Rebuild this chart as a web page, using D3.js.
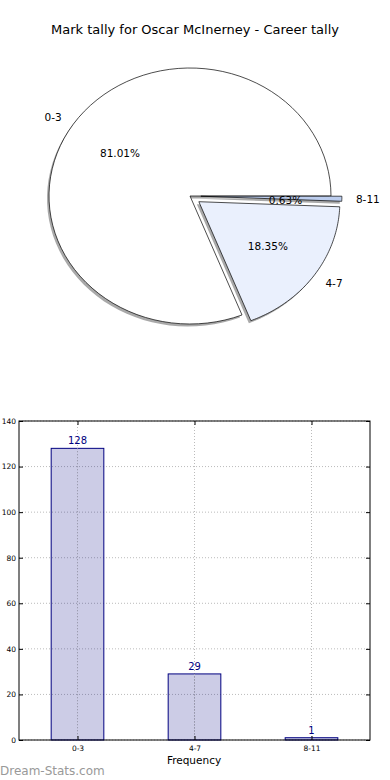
<!DOCTYPE html>
<html>
<head>
<meta charset="utf-8">
<script src="https://cdn.jsdelivr.net/npm/d3@7"></script>
<style>
  body { margin: 0; background: #fff; }
  svg { display: block; font-family: "DejaVu Sans", sans-serif; }
</style>
</head>
<body>
<svg id="chart" width="390" height="780"></svg>
<script>
// data
var categories = ["0-3", "4-7", "8-11"];
var counts = [128, 29, 1];
var pctLabels = ["81.01%", "18.35%", "0.63%"];
var explode = [0, 0.077, 0.077];
var pieColors = ["#ffffff", "#eaf0fd", "#bccdee"];
var yTicks = [0, 20, 40, 60, 80, 100, 120, 140];

var svg = d3.select("#chart");

svg.append("text")
  .attr("x", 195).attr("y", 34)
  .attr("text-anchor", "middle")
  .style("font-size", "13px")
  .text("Mark tally for Oscar McInerney - Career tally");

// ---- pie (drawn on a unit circle then stretched into the ellipse) ----
var cx = 190, cy = 196, rx = 141, ry = 128;
var total = d3.sum(counts);

// matplotlib style: start at 3 o'clock, go counter clockwise
var angles = [];
var acc = 0;
counts.forEach(function(c, i) {
  var a0 = acc / total * 2 * Math.PI;
  acc += c;
  var a1 = acc / total * 2 * Math.PI;
  angles.push({i: i, a0: a0, a1: a1, mid: (a0 + a1) / 2});
});

function pt(a, r, off) {
  return [cx + off[0] + rx * r * Math.cos(a), cy + off[1] - ry * r * Math.sin(a)];
}

function wedgePath(s, off) {
  var p = d3.path();
  p.moveTo(cx + off[0], cy + off[1]);
  var n = 80;
  for (var k = 0; k <= n; k++) {
    var a = s.a0 + (s.a1 - s.a0) * k / n;
    var q = pt(a, 1, off);
    p.lineTo(q[0], q[1]);
  }
  p.closePath();
  return p.toString();
}

angles.forEach(function(s) {
  s.off = [explode[s.i] * rx * Math.cos(s.mid), -explode[s.i] * ry * Math.sin(s.mid)];
});

var pieG = svg.append("g");

// shadows first
pieG.selectAll("path.shadow")
  .data(angles)
  .enter().append("path")
  .attr("class", "shadow")
  .attr("d", function(s) { return wedgePath(s, [s.off[0] - 2, s.off[1] + 2.5]); })
  .attr("fill", "#8c8c8c")
  .attr("fill-opacity", 0.75);

pieG.selectAll("path.wedge")
  .data(angles)
  .enter().append("path")
  .attr("class", "wedge")
  .attr("d", function(s) { return wedgePath(s, s.off); })
  .attr("fill", function(s) { return pieColors[s.i]; })
  .attr("stroke", "#000")
  .attr("stroke-width", 0.7)
  .attr("stroke-linejoin", "round");

// category labels at 1.1 radius
pieG.selectAll("text.lab")
  .data(angles)
  .enter().append("text")
  .attr("class", "lab")
  .attr("x", function(s) { return pt(s.mid, 1.1, s.off)[0]; })
  .attr("y", function(s) { return pt(s.mid, 1.1, s.off)[1]; })
  .attr("dy", "0.35em")
  .attr("text-anchor", function(s) { return Math.cos(s.mid) < 0 ? "end" : "start"; })
  .style("font-size", "10.5px")
  .text(function(s) { return categories[s.i]; });

// percentages at 0.6 radius
pieG.selectAll("text.pct")
  .data(angles)
  .enter().append("text")
  .attr("class", "pct")
  .attr("x", function(s) { return pt(s.mid, 0.6, s.off)[0]; })
  .attr("y", function(s) { return pt(s.mid, 0.6, s.off)[1] + (s.i === 2 ? 3 : 0); })
  .attr("dy", "0.35em")
  .attr("text-anchor", "middle")
  .style("font-size", "10.5px")
  .text(function(s) { return pctLabels[s.i]; });

// ---- bar chart ----
var plotL = 19, plotR = 370, plotT = 421, plotB = 740;

var x = d3.scaleLinear().domain([-0.5, 2.5]).range([plotL, plotR]);
var y = d3.scaleLinear().domain([0, 140]).range([plotB, plotT]);
var barW = 0.45;

var g = svg.append("g");

// grid
g.selectAll("line.hgrid")
  .data(yTicks)
  .enter().append("line")
  .attr("x1", plotL).attr("x2", plotR)
  .attr("y1", function(d) { return y(d); })
  .attr("y2", function(d) { return y(d); })
  .attr("stroke", "#bbb").attr("stroke-width", 1)
  .attr("stroke-dasharray", "1,2");

g.selectAll("line.vgrid")
  .data(categories)
  .enter().append("line")
  .attr("x1", function(d, i) { return x(i); })
  .attr("x2", function(d, i) { return x(i); })
  .attr("y1", plotT).attr("y2", plotB)
  .attr("stroke", "#bbb").attr("stroke-width", 1)
  .attr("stroke-dasharray", "1,2");

// bars
g.selectAll("rect.bar")
  .data(counts)
  .enter().append("rect")
  .attr("x", function(d, i) { return x(i - barW / 2); })
  .attr("width", function() { return x(barW) - x(0); })
  .attr("y", function(d) { return y(d); })
  .attr("height", function(d) { return y(0) - y(d); })
  .attr("fill", "#000080")
  .attr("fill-opacity", 0.2)
  .attr("stroke", "#000080")
  .attr("stroke-width", 1);

// grid shows through the bars in the original
g.selectAll("line.vgrid2")
  .data(categories)
  .enter().append("line")
  .attr("x1", function(d, i) { return x(i); })
  .attr("x2", function(d, i) { return x(i); })
  .attr("y1", function(d, i) { return y(counts[i]); }).attr("y2", plotB)
  .attr("stroke", "#a0a0b0").attr("stroke-width", 1)
  .attr("stroke-dasharray", "1,2");

g.selectAll("text.val")
  .data(counts)
  .enter().append("text")
  .attr("x", function(d, i) { return x(i); })
  .attr("y", function(d) { return y(d) - 4; })
  .attr("text-anchor", "middle")
  .attr("fill", "#000080")
  .style("font-size", "10px")
  .text(function(d) { return d; });

// axes
var yAxis = d3.axisLeft(y).tickValues(yTicks).tickSize(-4).tickPadding(3);
var yAx = g.append("g").attr("transform", "translate(" + plotL + ",0)").call(yAxis);
var yAxR = g.append("g").attr("transform", "translate(" + plotR + ",0)")
  .call(d3.axisRight(y).tickValues(yTicks).tickSize(-4).tickFormat(""));

var xAxis = d3.axisBottom(x).tickValues([0, 1, 2])
  .tickFormat(function(d) { return categories[d]; })
  .tickSize(-4).tickPadding(6);
var xAx = g.append("g").attr("transform", "translate(0," + plotB + ")").call(xAxis);
var xAxT = g.append("g").attr("transform", "translate(0," + plotT + ")")
  .call(d3.axisTop(x).tickValues([0, 1, 2]).tickSize(-4).tickFormat(""));

[yAx, yAxR, xAx, xAxT].forEach(function(a) {
  a.select(".domain").remove();
  a.selectAll("text").style("font-size", "7.5px").style("font-family", "DejaVu Sans").attr("fill", "#000");
  a.selectAll("line").attr("stroke", "#000");
});

g.append("rect")
  .attr("x", plotL).attr("y", plotT)
  .attr("width", plotR - plotL).attr("height", plotB - plotT)
  .attr("fill", "none").attr("stroke", "#000").attr("stroke-width", 1);

svg.append("text")
  .attr("x", 194).attr("y", 764)
  .attr("text-anchor", "middle")
  .style("font-size", "10.5px")
  .text("Frequency");

svg.append("text")
  .attr("x", 0).attr("y", 775)
  .attr("fill", "#999")
  .style("font-size", "12px")
  .text("Dream-Stats.com");
</script>
</body>
</html>
